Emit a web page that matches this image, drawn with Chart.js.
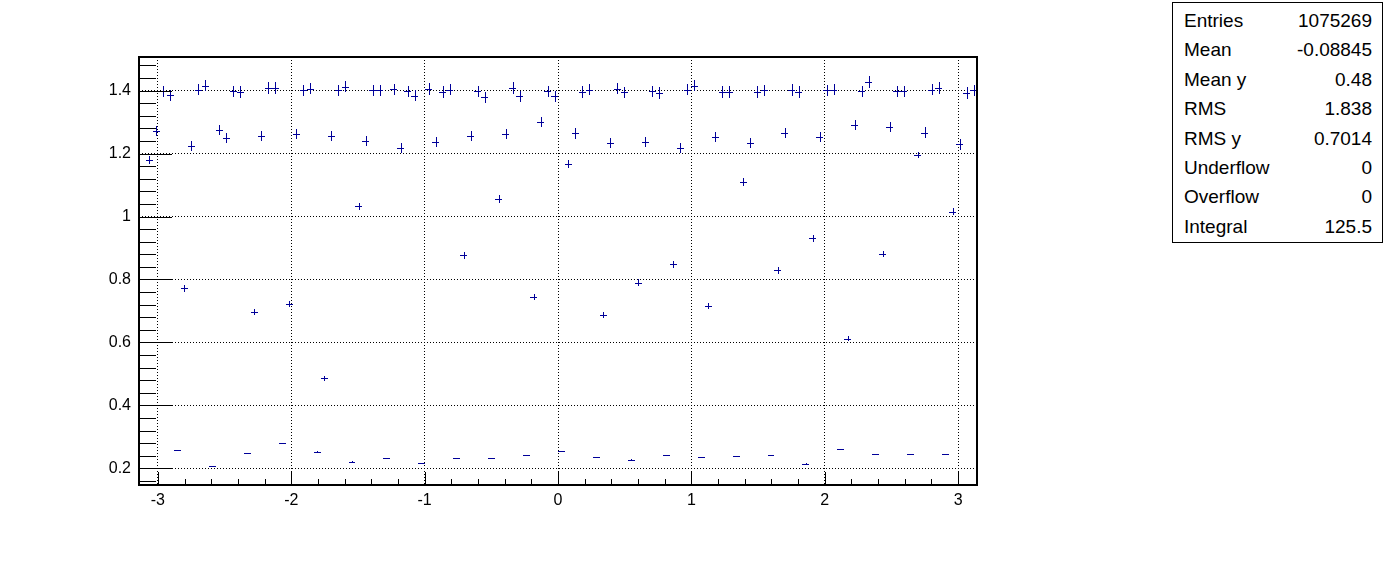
<!DOCTYPE html>
<html>
<head>
<meta charset="utf-8">
<script src="https://cdn.jsdelivr.net/npm/chart.js@4/dist/chart.umd.min.js"></script>
<style>
  html, body { margin: 0; padding: 0; background: #fff; }
  #wrap { position: relative; width: 1396px; height: 572px; }
  #stats {
    position: absolute; left: 1172px; top: 2px; width: 209px; height: 239px;
    border: 1px solid #000; background: #fff;
    font-family: "Liberation Sans", Arial, sans-serif; font-size: 19px; color: #000;
  }
  #stats .row { position: absolute; left: 11px; right: 10px; height: 24px; }
  #stats .row span:last-child { position: absolute; right: 0; }
</style>
</head>
<body>
<div id="wrap">
  <canvas id="profile" width="1396" height="572"></canvas>
  <div id="stats"></div>
</div>
<script>
// profile: 120 bins over [-pi, pi]
const nBins = 120;
const xMin = -Math.PI, xMax = Math.PI;

const binMeans = [
  0.239, 1.181, 1.273, 1.398, 1.385, 0.257, 0.772, 1.223, 1.403, 1.416,
  0.207, 1.275, 1.251, 1.398, 1.396, 0.248, 0.696, 1.257, 1.409, 1.409,
  0.279, 0.722, 1.262, 1.401, 1.406, 0.253, 0.486, 1.256, 1.401, 1.413,
  0.221, 1.032, 1.241, 1.401, 1.401, 0.232, 1.404, 1.217, 1.398, 1.384,
  0.216, 1.405, 1.237, 1.396, 1.403, 0.232, 0.877, 1.256, 1.398, 1.379,
  0.232, 1.055, 1.262, 1.409, 1.382, 0.242, 0.744, 1.300, 1.398, 1.382,
  0.254, 1.167, 1.264, 1.396, 1.403, 0.235, 0.688, 1.234, 1.406, 1.395,
  0.228, 0.790, 1.236, 1.398, 1.393, 0.242, 0.849, 1.218, 1.403, 1.416,
  0.235, 0.716, 1.253, 1.396, 1.396, 0.239, 1.110, 1.234, 1.396, 1.401,
  0.242, 0.830, 1.266, 1.402, 1.396, 0.214, 0.931, 1.253, 1.401, 1.403,
  0.260, 0.612, 1.292, 1.398, 1.428, 0.244, 0.881, 1.285, 1.398, 1.398,
  0.244, 1.196, 1.267, 1.403, 1.409, 0.244, 1.016, 1.230, 1.393, 1.401
];

const binErrors = [
  0.0015, 0.013, 0.016, 0.018, 0.018, 0.0015, 0.011, 0.016, 0.018, 0.018,
  0.0015, 0.015, 0.016, 0.018, 0.018, 0.0015, 0.010, 0.016, 0.018, 0.018,
  0.0015, 0.010, 0.016, 0.018, 0.018, 0.0015, 0.008, 0.016, 0.018, 0.018,
  0.0015, 0.012, 0.016, 0.018, 0.018, 0.0015, 0.018, 0.016, 0.018, 0.018,
  0.0015, 0.018, 0.016, 0.018, 0.018, 0.0015, 0.011, 0.016, 0.018, 0.018,
  0.0015, 0.012, 0.016, 0.018, 0.018, 0.0015, 0.010, 0.016, 0.018, 0.018,
  0.0015, 0.013, 0.016, 0.018, 0.018, 0.0015, 0.010, 0.016, 0.018, 0.018,
  0.0015, 0.011, 0.016, 0.018, 0.018, 0.0015, 0.011, 0.016, 0.018, 0.018,
  0.0015, 0.010, 0.016, 0.018, 0.018, 0.0015, 0.012, 0.016, 0.018, 0.018,
  0.0015, 0.011, 0.016, 0.018, 0.018, 0.0015, 0.011, 0.016, 0.018, 0.018,
  0.0015, 0.009, 0.016, 0.018, 0.019, 0.0015, 0.011, 0.016, 0.018, 0.018,
  0.0015, 0.010, 0.016, 0.018, 0.018, 0.0015, 0.012, 0.018, 0.018, 0.018
];

const xTickLabels = [-3, -2, -1, 0, 1, 2, 3];
const yTickLabels = [0.2, 0.4, 0.6, 0.8, 1, 1.2, 1.4];

const statNames = ["Entries", "Mean", "Mean y", "RMS", "RMS y", "Underflow", "Overflow", "Integral"];
const statValues = ["1075269", "-0.08845", "0.48", "1.838", "0.7014", "0", "0", "125.5"];

// stats box
const statsBox = document.getElementById("stats");
statNames.forEach((name, i) => {
    const row = document.createElement("div");
    row.className = "row";
    row.style.top = (7 + i * 29.4) + "px";
    row.innerHTML = "<span>" + name + "</span><span>" + statValues[i] + "</span>";
    statsBox.appendChild(row);
});

const binWidth = (xMax - xMin) / nBins;
const points = binMeans.map((v, i) => ({ x: xMin + (i + 0.5) * binWidth, y: v, e: binErrors[i] }));

const markColor = "#000099";
const yMin = 0.147, yMax = 1.507;

// minor tick positions (axis decoration only)
const xMinor = [];
for (let k = -16; k <= 16; k++) xMinor.push(k * 0.2);
const yMinor = [];
for (let k = 3; k <= 38; k++) yMinor.push(k * 0.04);

const rootStyle = {
    id: "rootStyle",
    afterDatasetsDraw(chart) {
        const ctx = chart.ctx;
        const xs = chart.scales.x, ys = chart.scales.y;
        ctx.save();
        ctx.strokeStyle = markColor;
        ctx.lineWidth = 1;
        ctx.beginPath();
        points.forEach(p => {
            const xl = Math.round(xs.getPixelForValue(p.x - binWidth / 2));
            const xr = Math.round(xs.getPixelForValue(p.x + binWidth / 2));
            const xc = Math.round(xs.getPixelForValue(p.x)) + 0.5;
            const yc = Math.round(ys.getPixelForValue(p.y)) + 0.5;
            const yt = Math.round(ys.getPixelForValue(p.y + p.e));
            const yb = Math.round(ys.getPixelForValue(p.y - p.e));
            ctx.moveTo(xl, yc); ctx.lineTo(xr, yc);
            if (yb - yt >= 1) { ctx.moveTo(xc, yt); ctx.lineTo(xc, yb); }
        });
        ctx.stroke();
        ctx.restore();
    },
    afterDraw(chart) {
        const ctx = chart.ctx;
        const a = chart.chartArea;
        const xs = chart.scales.x, ys = chart.scales.y;
        ctx.save();
        ctx.strokeStyle = "#000";
        ctx.lineWidth = 1;
        ctx.beginPath();
        // x ticks, inside the frame
        xMinor.forEach(v => {
            if (v < xMin || v > xMax) return;
            const px = Math.round(xs.getPixelForValue(v)) + 0.5;
            const major = Math.abs(v - Math.round(v)) < 1e-6;
            ctx.moveTo(px, a.bottom);
            ctx.lineTo(px, a.bottom - (major ? 13 : 6));
        });
        // y ticks
        yMinor.forEach(v => {
            if (v < yMin || v > yMax) return;
            const py = Math.round(ys.getPixelForValue(v)) + 0.5;
            const major = Math.abs(v * 5 - Math.round(v * 5)) < 1e-6;
            ctx.moveTo(a.left, py);
            ctx.lineTo(a.left + (major ? 33 : 17), py);
        });
        ctx.stroke();
        // frame
        ctx.lineWidth = 2;
        ctx.strokeRect(a.left, a.top, a.right - a.left, a.bottom - a.top);
        ctx.restore();
    }
};

const tickFont = { family: "'Liberation Sans', Arial, sans-serif", size: 16 };

new Chart(document.getElementById("profile"), {
    type: "scatter",
    data: {
        datasets: [{
            data: points,
            pointRadius: 0,
            showLine: false,
            borderColor: markColor
        }]
    },
    options: {
        responsive: false,
        animation: false,
        layout: { padding: { left: 0, top: 57, right: 419, bottom: 0 } },
        plugins: { legend: { display: false }, tooltip: { enabled: false } },
        scales: {
            x: {
                type: "linear",
                min: xMin,
                max: xMax,
                afterBuildTicks: s => { s.ticks = xTickLabels.map(v => ({ value: v })); },
                afterFit: s => { s.height = 87; },
                grid: { color: "#000", lineWidth: 1, drawTicks: false },
                border: { display: false, dash: [1, 2] },
                ticks: { color: "#000", font: tickFont, padding: 6, maxRotation: 0,
                         callback: v => String(v) }
            },
            y: {
                type: "linear",
                min: yMin,
                max: yMax,
                afterBuildTicks: s => { s.ticks = yTickLabels.map(v => ({ value: v })); },
                afterFit: s => { s.width = 139; },
                grid: { color: "#000", lineWidth: 1, drawTicks: false },
                border: { display: false, dash: [1, 2] },
                ticks: { color: "#000", font: tickFont, padding: 8,
                         callback: v => String(Math.round(v * 10) / 10) }
            }
        }
    },
    plugins: [rootStyle]
});
</script>
</body>
</html>
